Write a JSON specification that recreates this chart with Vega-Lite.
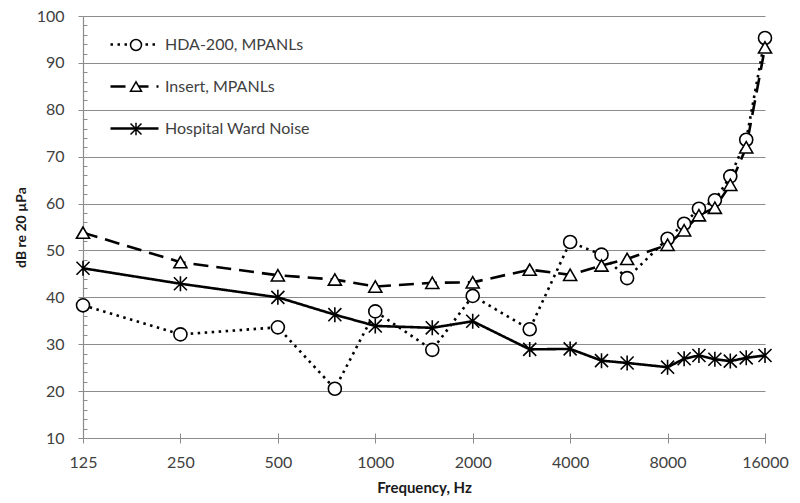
{
  "$schema": "https://vega.github.io/schema/vega-lite/v6.json",
  "width": 682,
  "height": 422,
  "autosize": "none",
  "padding": {"left": 83, "top": 16, "right": 35, "bottom": 65},
  "background": "white",
  "config": {
    "view": {"stroke": null},
    "font": "Lato",
    "axis": {"labelFont": "Lato", "titleFont": "Lato", "labelColor": "#404040", "titleColor": "#1a1a1a", "domainColor": "#8c8c8c", "tickColor": "#8c8c8c", "gridColor": "#8c8c8c", "domainWidth": 1.2, "tickWidth": 1, "gridWidth": 1}
  },
  "data": {"values": [
    {"f": 125, "s": "HDA-200, MPANLs", "db": 38.3},
    {"f": 250, "s": "HDA-200, MPANLs", "db": 32.1},
    {"f": 500, "s": "HDA-200, MPANLs", "db": 33.6},
    {"f": 750, "s": "HDA-200, MPANLs", "db": 20.5},
    {"f": 1000, "s": "HDA-200, MPANLs", "db": 37.0},
    {"f": 1500, "s": "HDA-200, MPANLs", "db": 28.8},
    {"f": 2000, "s": "HDA-200, MPANLs", "db": 40.3},
    {"f": 3000, "s": "HDA-200, MPANLs", "db": 33.2},
    {"f": 4000, "s": "HDA-200, MPANLs", "db": 51.8},
    {"f": 5000, "s": "HDA-200, MPANLs", "db": 49.1},
    {"f": 6000, "s": "HDA-200, MPANLs", "db": 44.1},
    {"f": 8000, "s": "HDA-200, MPANLs", "db": 52.5},
    {"f": 9000, "s": "HDA-200, MPANLs", "db": 55.7},
    {"f": 10000, "s": "HDA-200, MPANLs", "db": 58.9},
    {"f": 11200, "s": "HDA-200, MPANLs", "db": 60.7},
    {"f": 12500, "s": "HDA-200, MPANLs", "db": 65.8},
    {"f": 14000, "s": "HDA-200, MPANLs", "db": 73.6},
    {"f": 16000, "s": "HDA-200, MPANLs", "db": 95.3},
    {"f": 125, "s": "Insert, MPANLs", "db": 53.8},
    {"f": 250, "s": "Insert, MPANLs", "db": 47.5},
    {"f": 500, "s": "Insert, MPANLs", "db": 44.7},
    {"f": 750, "s": "Insert, MPANLs", "db": 43.8},
    {"f": 1000, "s": "Insert, MPANLs", "db": 42.3},
    {"f": 1500, "s": "Insert, MPANLs", "db": 43.1},
    {"f": 2000, "s": "Insert, MPANLs", "db": 43.2},
    {"f": 3000, "s": "Insert, MPANLs", "db": 45.9},
    {"f": 4000, "s": "Insert, MPANLs", "db": 44.8},
    {"f": 5000, "s": "Insert, MPANLs", "db": 46.8},
    {"f": 6000, "s": "Insert, MPANLs", "db": 48.2},
    {"f": 8000, "s": "Insert, MPANLs", "db": 51.2},
    {"f": 9000, "s": "Insert, MPANLs", "db": 54.3},
    {"f": 10000, "s": "Insert, MPANLs", "db": 57.5},
    {"f": 11200, "s": "Insert, MPANLs", "db": 59.1},
    {"f": 12500, "s": "Insert, MPANLs", "db": 64.0},
    {"f": 14000, "s": "Insert, MPANLs", "db": 72.0},
    {"f": 16000, "s": "Insert, MPANLs", "db": 93.3},
    {"f": 125, "s": "Hospital Ward Noise", "db": 46.2},
    {"f": 250, "s": "Hospital Ward Noise", "db": 42.9},
    {"f": 500, "s": "Hospital Ward Noise", "db": 40.0},
    {"f": 750, "s": "Hospital Ward Noise", "db": 36.3},
    {"f": 1000, "s": "Hospital Ward Noise", "db": 33.9},
    {"f": 1500, "s": "Hospital Ward Noise", "db": 33.5},
    {"f": 2000, "s": "Hospital Ward Noise", "db": 34.9},
    {"f": 3000, "s": "Hospital Ward Noise", "db": 28.9},
    {"f": 4000, "s": "Hospital Ward Noise", "db": 29.0},
    {"f": 5000, "s": "Hospital Ward Noise", "db": 26.5},
    {"f": 6000, "s": "Hospital Ward Noise", "db": 26.0},
    {"f": 8000, "s": "Hospital Ward Noise", "db": 25.1},
    {"f": 9000, "s": "Hospital Ward Noise", "db": 26.9},
    {"f": 10000, "s": "Hospital Ward Noise", "db": 27.6},
    {"f": 11200, "s": "Hospital Ward Noise", "db": 26.8},
    {"f": 12500, "s": "Hospital Ward Noise", "db": 26.4},
    {"f": 14000, "s": "Hospital Ward Noise", "db": 27.1},
    {"f": 16000, "s": "Hospital Ward Noise", "db": 27.6}
  ]},
  "layer": [
    {
      "mark": {"type": "line", "color": "black", "strokeWidth": 2.6},
      "encoding": {
        "x": {"field": "f", "type": "quantitative",
          "scale": {"type": "log", "base": 2, "domain": [125, 16000], "nice": false},
          "axis": {"values": [125, 250, 500, 1000, 2000, 4000, 8000, 16000], "format": "d", "grid": false, "tickSize": 5, "labelFlush": false, "labelPadding": 11, "labelFontSize": 16, "title": "Frequency, Hz", "titleFontSize": 15, "titleFontWeight": "bold", "titleX": 341, "titleY": 49, "titleBaseline": "middle", "titleAlign": "center"}},
        "y": {"field": "db", "type": "quantitative",
          "scale": {"domain": [10, 100], "nice": false, "zero": false},
          "axis": {"values": [10, 20, 30, 40, 50, 60, 70, 80, 90, 100], "grid": true, "tickSize": 5, "labelPadding": 14, "labelFontSize": 16, "title": "dB  re 20 µPa", "titleFontSize": 14, "titleFontWeight": "bold", "titleAngle": 270, "titleX": -62, "titleY": 211, "titleAlign": "center", "titleBaseline": "middle"}},
        "strokeDash": {"field": "s", "type": "nominal",
          "scale": {"domain": ["HDA-200, MPANLs", "Insert, MPANLs", "Hospital Ward Noise"], "range": [[2.5, 4.5], [15, 8], [1, 0]]},
          "legend": {"orient": "none", "legendX": 26, "legendY": 3, "title": null, "padding": 0, "symbolType": "stroke", "symbolSize": 2304, "symbolStrokeWidth": 2.6, "symbolStrokeColor": "black", "labelFontSize": 16, "labelColor": "#404040", "labelOffset": 5, "rowPadding": 8}}
      }
    },
    {
      "mark": {"type": "point", "fill": "white", "stroke": "black", "strokeWidth": 1.6, "opacity": 1, "size": 170},
      "encoding": {
        "x": {"field": "f", "type": "quantitative",
          "axis": {"orient": "bottom", "values": [125, 250, 500, 1000, 2000, 4000, 8000, 16000], "labels": false, "domain": false, "grid": false, "tickSize": -5, "title": null}},
        "y": {"field": "db", "type": "quantitative",
          "axis": {"orient": "left", "values": [12, 14, 16, 18, 22, 24, 26, 28, 32, 34, 36, 38, 42, 44, 46, 48, 52, 54, 56, 58, 62, 64, 66, 68, 72, 74, 76, 78, 82, 84, 86, 88, 92, 94, 96, 98], "labels": false, "domain": false, "grid": false, "tickSize": -4, "title": null}},
        "shape": {"field": "s", "type": "nominal", "sort": null,
          "scale": {"range": ["circle", "triangle-up", "M-1,-1L1,1M-1,1L1,-1M0,-1.15L0,1.15"]},
          "legend": {"orient": "none", "legendX": 45, "legendY": 21, "title": null, "padding": 0, "symbolSize": 120, "labelFontSize": 16, "labelExpr": "''", "rowPadding": 24.5,
            "encode": {"symbols": {"update": {"fill": {"value": "white"}, "stroke": {"value": "black"}, "strokeWidth": {"value": 1.6}, "opacity": {"value": 1}}}}}}
      }
    }
  ],
  "resolve": {"axis": {"x": "independent", "y": "independent"}}
}
